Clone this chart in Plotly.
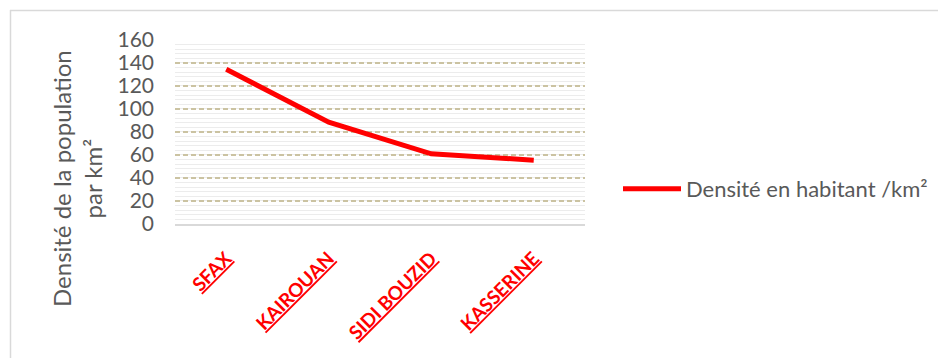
import plotly.graph_objects as go

categories = ["SFAX", "KAIROUAN", "SIDI BOUZID", "KASSERINE"]
densite = [134.5, 88.5, 61, 55.5]
y_ticks = [0, 20, 40, 60, 80, 100, 120, 140, 160]
series_name = "Densité en habitant /km²"
y_title = "Densité de la population<br>par km²"

FONT = "Lato"
L, R, T, B = 175, 354, 39, 134
W, H = 939, 358
pw = W - L - R
ph = H - T - B

fig = go.Figure()
fig.add_trace(go.Scatter(
    x=categories, y=densite, mode="lines", name=series_name,
    line=dict(color="#ff0000", width=5),
))

fig.update_layout(
    width=W, height=H,
    margin=dict(l=L, r=R, t=T, b=B, autoexpand=False),
    paper_bgcolor="white", plot_bgcolor="white",
    font=dict(family=FONT, color="#595959"),
    showlegend=True,
    legend=dict(
        x=(618 - L) / pw, y=(224 - 189) / ph, xanchor="left", yanchor="middle",
        font=dict(size=22, color="#595959", family=FONT),
        bgcolor="rgba(0,0,0,0)", itemwidth=58,
    ),
    xaxis=dict(
        type="category",
        tickmode="array", tickvals=categories,
        ticktext=[f"<b><u>{c}</u></b>" for c in categories],
        tickangle=-45,
        tickfont=dict(size=19, color="#ff0000", family=FONT),
        ticklabelstandoff=14,
        showgrid=False, zeroline=False,
        showline=True, linecolor="#d9d9d9", linewidth=2,
        ticks="", range=[-0.5, 3.5],
    ),
    yaxis=dict(
        range=[0, 160.8], tickvals=y_ticks,
        tickfont=dict(size=21, color="#595959", family=FONT),
        ticklabelstandoff=20,
        showgrid=True, gridcolor="#cbc3a2", gridwidth=2, griddash="5px,3px",
        minor=dict(dtick=4, showgrid=True, gridcolor="#ececec", gridwidth=1, griddash="solid"),
        zeroline=False, showline=False, ticks="",
    ),
    annotations=[
        dict(text=y_title, textangle=-90, xref="paper", yref="paper",
             x=(77 - L) / pw, y=(H - B - 179) / ph, xanchor="center", yanchor="middle",
             showarrow=False, font=dict(size=24, color="#595959", family=FONT)),
    ],
    shapes=[
        dict(type="line", xref="paper", yref="paper",
             x0=(10 - L) / pw, x1=(938 - L) / pw,
             y0=(H - B - 10.5) / ph, y1=(H - B - 10.5) / ph,
             line=dict(color="#d9d9d9", width=1.5)),
        dict(type="line", xref="paper", yref="paper",
             x0=(10.5 - L) / pw, x1=(10.5 - L) / pw,
             y0=(H - B - 10) / ph, y1=(H - B - 360) / ph,
             line=dict(color="#d9d9d9", width=1.5)),
    ],
)

fig.write_html("out.html")
